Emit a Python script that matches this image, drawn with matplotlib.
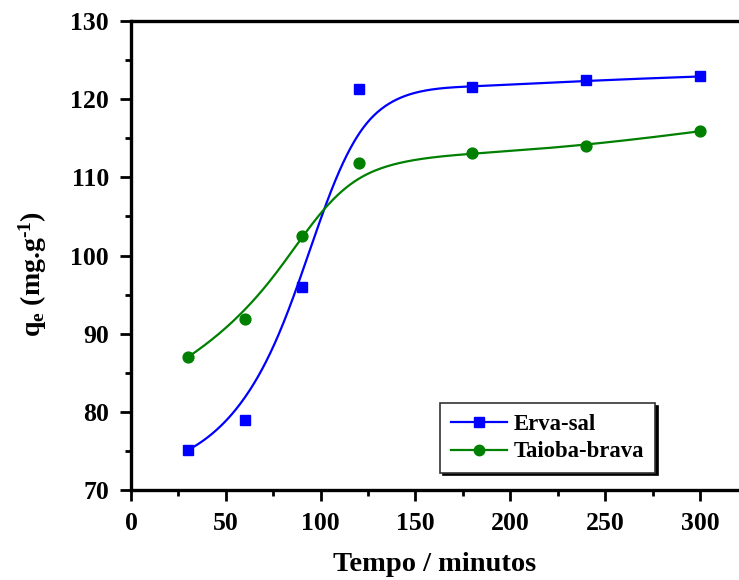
import numpy as np
import matplotlib
matplotlib.use("Agg")
import matplotlib.pyplot as plt
from matplotlib.lines import Line2D
from matplotlib.ticker import MultipleLocator

# data
tempo = [30, 60, 90, 120, 180, 240, 300]
erva_sal = [75.1, 79.0, 96.0, 121.3, 121.5, 122.4, 122.9]
taioba_brava = [87.0, 91.9, 102.5, 111.8, 113.1, 114.0, 115.9]

plt.rcParams['font.family'] = ['Liberation Serif', 'DejaVu Serif']
plt.rcParams['font.weight'] = 'bold'
plt.rcParams['mathtext.fontset'] = 'custom'
plt.rcParams['mathtext.rm'] = 'Liberation Serif:bold'
plt.rcParams['mathtext.it'] = 'Liberation Serif:bold'
plt.rcParams['mathtext.bf'] = 'Liberation Serif:bold'


def bspline(x, y, n=400, k=3):
    '''
    clamped B-spline using the data points as control points (Origin "B-Spline" connect)
    '''
    P = np.column_stack([x, y]).astype(float)
    m = len(P)
    knots = np.concatenate([np.zeros(k), np.linspace(0, 1, m - k + 1), np.ones(k)])
    t = np.linspace(0, 1, n)
    t[-1] = 1 - 1e-12

    # Cox-de Boor
    N = np.zeros((n, len(knots) - 1))
    for i in range(len(knots) - 1):
        N[:, i] = (t >= knots[i]) & (t < knots[i + 1])
    for d in range(1, k + 1):
        Nn = np.zeros((n, len(knots) - 1 - d))
        for i in range(len(knots) - 1 - d):
            a = knots[i + d] - knots[i]
            b = knots[i + d + 1] - knots[i + 1]
            left = (t - knots[i]) / a * N[:, i] if a > 0 else 0
            right = (knots[i + d + 1] - t) / b * N[:, i + 1] if b > 0 else 0
            Nn[:, i] = left + right
        N = Nn
    C = N @ P
    return C[:, 0], C[:, 1]


fig = plt.figure(figsize=(7.39, 5.8), dpi=100)
ax = fig.add_axes([131 / 739, 1 - 490 / 580, 608 / 739, 469 / 580])

series = [(erva_sal, "Erva-sal", "#0000ff", "s"), (taioba_brava, "Taioba-brava", "#008000", "o")]
handles = []
for vals, name, col, mk in series:
    cx, cy = bspline(tempo, vals)
    ax.plot(cx, cy, color=col, lw=1.6, zorder=2)
    ax.plot(tempo, vals, ls="none", marker=mk, ms=7.8, color=col, zorder=3)
    handles.append(Line2D([], [], color=col, lw=1.6, marker=mk, ms=7.5, label=name))

ax.set_xlim(0, 320.6)
ax.set_ylim(70, 130)
ax.xaxis.set_major_locator(MultipleLocator(50))
ax.xaxis.set_minor_locator(MultipleLocator(25))
ax.yaxis.set_major_locator(MultipleLocator(10))
ax.yaxis.set_minor_locator(MultipleLocator(5))

for s in ["left", "bottom", "top"]:
    ax.spines[s].set_linewidth(2.4)
ax.spines["right"].set_visible(False)
ax.tick_params(which="major", direction="out", length=8, width=2, labelsize=18.5, pad=8)
ax.tick_params(which="minor", direction="out", length=4, width=2)
ax.tick_params(top=False, right=False, which="both")

ax.set_xlabel("Tempo / minutos", fontsize=20.5, fontweight="bold", labelpad=12)
ax.set_ylabel(r"q$_{\rm e}$ (mg.g$^{\text{-1}}$)", fontsize=20, fontweight="bold")
ax.yaxis.set_label_coords(-0.135, 0.46)

leg = ax.legend(handles=handles, loc="lower left", bbox_to_anchor=(0.509, 0.037),
                borderaxespad=0, fontsize=16.3, handlelength=2.5, fancybox=False,
                shadow={"color": "black", "alpha": 1}, framealpha=1,
                edgecolor="#333333", labelspacing=0.3, handletextpad=0.3,
                borderpad=0.45)
leg.get_frame().set_linewidth(1.2)

fig.savefig("out.png", dpi=100)
